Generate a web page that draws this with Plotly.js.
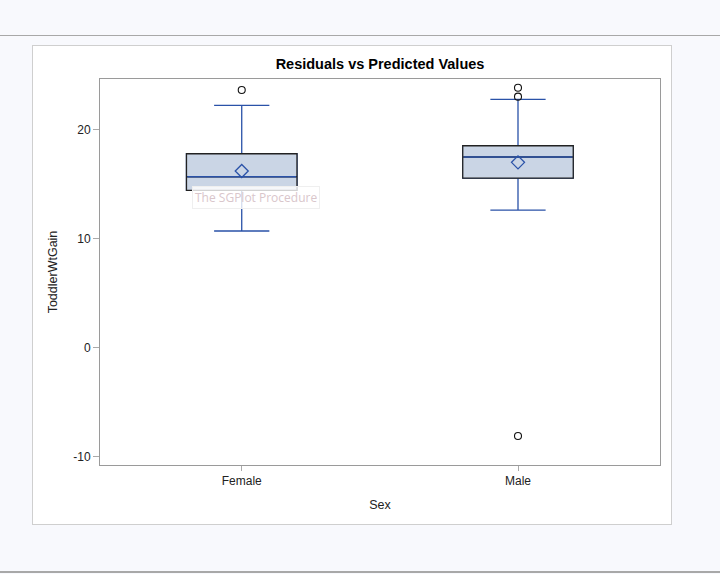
<!DOCTYPE html>
<html>
<head>
<meta charset="utf-8">
<script src="https://cdn.plot.ly/plotly-3.0.1.min.js"></script>
<style>
  html, body { margin:0; padding:0; width:720px; height:574px; overflow:hidden; background:#f8f9fd; font-family:"Liberation Sans", Arial, sans-serif; }
  #topline { position:absolute; left:0; top:35px; width:720px; height:0; border-top:1px solid #a8a8a8; }
  #botline { position:absolute; left:0; top:571px; width:720px; height:0; border-top:2px solid #a8a8a8; }
  #panel { position:absolute; left:32px; top:45px; width:638px; height:478px; background:#fff; border:1px solid #cfcfcf; }
  #chart { position:absolute; left:0; top:0; width:720px; height:574px; }
</style>
</head>
<body>
<div id="topline"></div>
<div id="panel"></div>
<div id="botline"></div>
<div id="chart"></div>
<script>
// Data
const categories = ["Female", "Male"];
const q1Values = [14.43, 15.55];
const medianValues = [15.67, 17.48];
const q3Values = [17.78, 18.51];
const lowerWhisker = [10.70, 12.62];
const upperWhisker = [22.22, 22.77];
const meanValues = [16.20, 16.99];
const outlierCategories = ["Female", "Male", "Male", "Male"];
const outlierValues = [23.62, 23.83, 23.01, -8.09];
const yTickValues = [-10, 0, 10, 20];

const blue = "#2a52a8";
const fill = "#cad5e5";
const boxWidth = 0.40;

const traces = [
  // whiskers (blue); box outline is covered by the filled box drawn next
  {
    type: "box", x: categories,
    q1: q1Values, median: medianValues, q3: q3Values,
    lowerfence: lowerWhisker, upperfence: upperWhisker,
    width: boxWidth, whiskerwidth: 0.5,
    fillcolor: "rgba(0,0,0,0)", line: { color: blue, width: 1.3 },
    hoverinfo: "skip", showlegend: false
  },
  // filled box with dark outline
  {
    type: "box", x: categories,
    q1: q1Values, median: medianValues, q3: q3Values,
    lowerfence: q1Values, upperfence: q3Values,
    width: boxWidth, whiskerwidth: 0,
    fillcolor: fill, line: { color: "#222222", width: 1.3 },
    hoverinfo: "skip", showlegend: false
  },
  // median line (blue)
  {
    type: "box", x: categories,
    q1: medianValues, median: medianValues, q3: medianValues,
    lowerfence: medianValues, upperfence: medianValues,
    width: boxWidth * 0.985, whiskerwidth: 0,
    fillcolor: "rgba(0,0,0,0)", line: { color: blue, width: 1.5 },
    hoverinfo: "skip", showlegend: false
  },
  // means
  {
    type: "scatter", mode: "markers", x: categories, y: meanValues,
    marker: { symbol: "diamond-open", size: 10, color: blue, line: { color: blue, width: 1.3 } },
    showlegend: false
  },
  // outliers
  {
    type: "scatter", mode: "markers", x: outlierCategories, y: outlierValues,
    marker: { symbol: "circle-open", size: 7, color: "#111", line: { color: "#111", width: 1.1 } },
    showlegend: false
  }
];

const layout = {
  width: 720, height: 574,
  margin: { l: 100, r: 60, t: 79, b: 109 },
  paper_bgcolor: "rgba(0,0,0,0)",
  plot_bgcolor: "rgba(0,0,0,0)",
  boxmode: "overlay",
  font: { family: "Liberation Sans, Arial, sans-serif", color: "#222", size: 12 },
  title: {
    text: "<b>Residuals vs Predicted Values</b>",
    font: { family: "Liberation Sans, Arial, sans-serif", size: 14.5, color: "#000" },
    x: 0.5, xref: "paper", xanchor: "center",
    y: 1 - 64 / 574, yref: "container", yanchor: "middle"
  },
  xaxis: {
    type: "category",
    range: [-0.513, 1.514],
    showline: true, mirror: true, linecolor: "#9a9a9a", linewidth: 1,
    ticks: "outside", ticklen: 5, tickcolor: "#aaaaaa",
    showgrid: false, zeroline: false,
    tickfont: { size: 12, color: "#222" },
    title: { text: "Sex", font: { size: 12.5, color: "#222" }, standoff: 12 }
  },
  yaxis: {
    range: [-10.75, 24.63],
    tickvals: yTickValues, ticktext: yTickValues.map(String),
    showline: true, mirror: true, linecolor: "#9a9a9a", linewidth: 1,
    ticks: "outside", ticklen: 6, tickcolor: "#aaaaaa",
    showgrid: false, zeroline: false,
    tickfont: { size: 12, color: "#222" },
    title: { text: "ToddlerWtGain", font: { size: 12.5, color: "#222" }, standoff: 12 }
  },
  annotations: [
    {
      text: "The SGPlot Procedure",
      xref: "paper", yref: "paper",
      x: (256 - 100) / 560, y: (465 - 197) / 386,
      xanchor: "center", yanchor: "middle", showarrow: false,
      font: { family: "Open Sans, Noto Sans, sans-serif", size: 12, color: "#d9c6cb" },
      bgcolor: "rgba(255,255,255,0.8)", bordercolor: "#efefef", borderwidth: 1, borderpad: 2
    }
  ]
};

Plotly.newPlot("chart", traces, layout, { displayModeBar: false, staticPlot: true });
</script>
</body>
</html>
